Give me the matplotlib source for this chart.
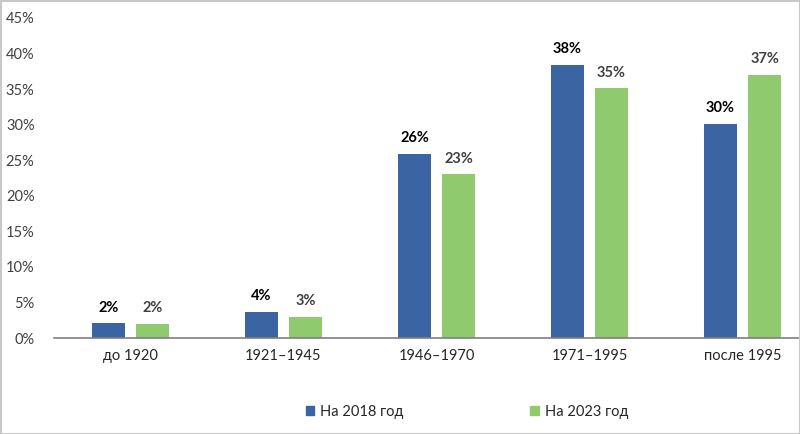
import numpy as np
import matplotlib
matplotlib.use("Agg")
import matplotlib.pyplot as plt
from matplotlib.patches import Rectangle

plt.rcParams['font.family'] = ['Lato', 'DejaVu Sans']

categories = ["до 1920", "1921–1945", "1946–1970", "1971–1995", "после 1995"]
values_2018 = [2.1, 3.7, 25.9, 38.4, 30.1]
values_2023 = [2.0, 3.0, 23.0, 35.1, 37.0]
labels_2018 = ["2%", "4%", "26%", "38%", "30%"]
labels_2023 = ["2%", "3%", "23%", "35%", "37%"]
series_names = ["На 2018 год", "На 2023 год"]

blue = "#3b64a2"
green = "#8fca6e"

fig = plt.figure(figsize=(8, 4.34), dpi=100)
ax = fig.add_axes([54 / 800, 1 - 338 / 434, 746 / 800, 320 / 434])

x = np.arange(len(categories))
w = 0.22
off = 0.144
ax.bar(x - off, values_2018, w, color=blue)
ax.bar(x + off, values_2023, w, color=green)

for i in range(len(categories)):
    ax.text(x[i] - off, values_2018[i] + 1.2, labels_2018[i], ha='center', va='bottom',
            fontsize=10.5, fontweight='bold', color='black')
    ax.text(x[i] + off, values_2023[i] + 1.2, labels_2023[i], ha='center', va='bottom',
            fontsize=10.5, fontweight='bold', color='#404040')

ax.set_ylim(0, 45)
ax.set_xlim(-0.5, -0.5 + 746 / 153)
ax.set_yticks(np.arange(0, 46, 5))
ax.set_yticklabels([f"{v}%" for v in range(0, 46, 5)], fontsize=10.5, color='#404040')
ax.set_xticks(x)
ax.set_xticklabels(categories, fontsize=10.5, color='#262626')
ax.tick_params(axis='both', length=0, pad=8)
ax.tick_params(axis='y', pad=14)
for s in ['top', 'right', 'left']:
    ax.spines[s].set_visible(False)
ax.spines['bottom'].set_color('#7f7f7f')
ax.spines['bottom'].set_linewidth(1.2)

handles = [Rectangle((0, 0), 1, 1, color=blue), Rectangle((0, 0), 1, 1, color=green)]
fig.legend(handles, series_names, loc='center', bbox_to_anchor=(467 / 800, 1 - 412 / 434),
           ncol=2, frameon=False, fontsize=10.5, handlelength=0.6, handleheight=0.6,
           handletextpad=0.4, columnspacing=8.7, labelcolor='#262626')

fig.add_artist(Rectangle((0.5 / 800, 0.5 / 434), 1 - 1 / 800, 1 - 1 / 434, transform=fig.transFigure,
                         fill=False, edgecolor='#c8c8c8', linewidth=1.5))

fig.savefig("out.png", dpi=100)
